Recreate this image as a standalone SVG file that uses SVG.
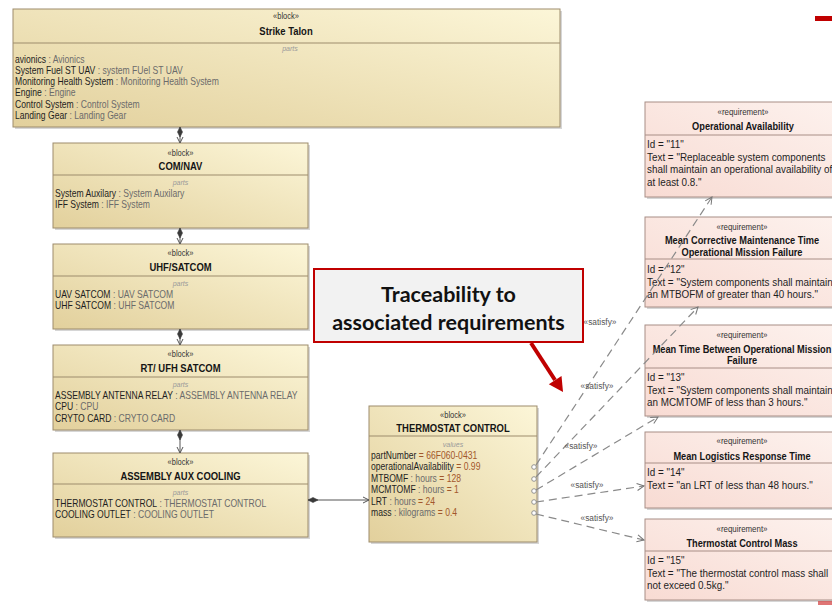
<svg xmlns="http://www.w3.org/2000/svg" width="832" height="605" viewBox="0 0 832 605">
  <defs>
    <linearGradient id="blockFill" x1="0" y1="1" x2="1" y2="0">
      <stop offset="0" stop-color="#e2d09c"/>
      <stop offset="1" stop-color="#fcf6d8"/>
    </linearGradient>
    <linearGradient id="reqFill" x1="0" y1="1" x2="1" y2="0">
      <stop offset="0" stop-color="#f8dbd3"/>
      <stop offset="1" stop-color="#fdf2ee"/>
    </linearGradient>
    <marker id="diamond" markerUnits="userSpaceOnUse" markerWidth="11" markerHeight="7" refX="0" refY="3" orient="auto" overflow="visible">
      <path d="M0,3 L5,0.5 L10,3 L5,5.5 Z" fill="#3a3a3a" stroke="#3a3a3a" stroke-width="0.6"/>
    </marker>
    <marker id="openArrow" markerUnits="userSpaceOnUse" markerWidth="8" markerHeight="8" refX="6" refY="3" orient="auto" overflow="visible">
      <path d="M0,0 L6,3 L0,6" fill="none" stroke="#555" stroke-width="1"/>
    </marker>
    <marker id="satArrow" markerUnits="userSpaceOnUse" markerWidth="9" markerHeight="8" refX="7" refY="3.5" orient="auto" overflow="visible">
      <path d="M0,0 L7,3.5 L0,7" fill="none" stroke="#777" stroke-width="1"/>
    </marker>
  </defs>
  <style>
    text { font-family: "Liberation Sans", Arial, sans-serif; }
    .shadow { fill: #000; opacity: 0.16; }
    .blk { fill: url(#blockFill); stroke: #9d8c6c; stroke-width: 1; }
    .req { fill: url(#reqFill); stroke: #a88e86; stroke-width: 1; }
    .div { stroke: #9d8c6c; stroke-width: 1; }
    .rdiv { stroke: #a88e86; stroke-width: 1; }
    .st { font-size: 8.5px; fill: #333; text-anchor: middle; }
    .ti { font-size: 10.5px; font-weight: bold; fill: #151515; text-anchor: middle; }
    .pt { font-size: 8px; font-style: italic; fill: #9a9a9a; text-anchor: middle; }
    .c { font-size: 10px; fill: #1e1e1e; }
    .g { fill: #6b6b6b; }
    .v { fill: #a2572b; }
    .rst { font-size: 9px; fill: #333; text-anchor: middle; }
    .rti { font-size: 10.5px; font-weight: bold; fill: #151515; text-anchor: middle; }
    .rc { font-size: 11.5px; fill: #1e1e1e; }
    .sat { font-size: 9.5px; fill: #555; text-anchor: middle; }
    .comp { stroke: #555; stroke-width: 1; fill: none; marker-start: url(#diamond); marker-end: url(#openArrow); }
    .satl { stroke: #8a8a8a; stroke-width: 1.2; fill: none; stroke-dasharray: 8 5; marker-end: url(#satArrow); }
    .port { fill: #fff; stroke: #888; stroke-width: 0.9; }
    .call { font-family: Lato, "Open Sans", sans-serif; font-size: 21.5px; font-weight: bold; fill: #111; text-anchor: middle; }
  </style>

  <rect width="832" height="605" fill="#ffffff"/>

  <!-- Blocks -->
  <g id="strike-talon">
    <rect class="shadow" x="15" y="11" width="547" height="118"/>
    <rect class="blk" x="13" y="9" width="547" height="118"/>
    <line class="div" x1="13" y1="43" x2="560" y2="43"/>
    <text class="st" transform="translate(286 19) scale(.88 1)">«block»</text>
    <text class="ti" transform="translate(286 35) scale(.9 1)">Strike Talon</text>
    <text class="pt" transform="translate(290 51) scale(.88 1)">parts</text>
    <text class="c" transform="translate(15 62.5) scale(.86 1)">avionics<tspan class="g"> : Avionics</tspan></text>
    <text class="c" transform="translate(15 73.8) scale(.86 1)">System Fuel ST UAV<tspan class="g"> : system FUel ST UAV</tspan></text>
    <text class="c" transform="translate(15 85.1) scale(.86 1)">Monitoring Health System<tspan class="g"> : Monitoring Health System</tspan></text>
    <text class="c" transform="translate(15 96.4) scale(.86 1)">Engine<tspan class="g"> : Engine</tspan></text>
    <text class="c" transform="translate(15 107.7) scale(.86 1)">Control System<tspan class="g"> : Control System</tspan></text>
    <text class="c" transform="translate(15 119) scale(.86 1)">Landing Gear<tspan class="g"> : Landing Gear</tspan></text>
  </g>

  <g id="com-nav">
    <rect class="shadow" x="55" y="145" width="255" height="85"/>
    <rect class="blk" x="53" y="143" width="255" height="85"/>
    <line class="div" x1="53" y1="175" x2="308" y2="175"/>
    <text class="st" transform="translate(180.5 156) scale(.88 1)">«block»</text>
    <text class="ti" transform="translate(180.5 170) scale(.9 1)">COM/NAV</text>
    <text class="pt" transform="translate(180.5 185) scale(.88 1)">parts</text>
    <text class="c" transform="translate(55 196.5) scale(.86 1)">System Auxilary<tspan class="g"> : System Auxilary</tspan></text>
    <text class="c" transform="translate(55 208) scale(.86 1)">IFF System<tspan class="g"> : IFF System</tspan></text>
  </g>

  <g id="uhf-satcom">
    <rect class="shadow" x="55" y="246" width="255" height="85"/>
    <rect class="blk" x="53" y="244" width="255" height="85"/>
    <line class="div" x1="53" y1="276" x2="308" y2="276"/>
    <text class="st" transform="translate(180.5 256) scale(.88 1)">«block»</text>
    <text class="ti" transform="translate(180.5 271) scale(.9 1)">UHF/SATCOM</text>
    <text class="pt" transform="translate(180.5 286) scale(.88 1)">parts</text>
    <text class="c" transform="translate(55 297.5) scale(.86 1)">UAV SATCOM<tspan class="g"> : UAV SATCOM</tspan></text>
    <text class="c" transform="translate(55 309) scale(.86 1)">UHF SATCOM<tspan class="g"> : UHF SATCOM</tspan></text>
  </g>

  <g id="rt-ufh-satcom">
    <rect class="shadow" x="55" y="347" width="255" height="85"/>
    <rect class="blk" x="53" y="345" width="255" height="85"/>
    <line class="div" x1="53" y1="377" x2="308" y2="377"/>
    <text class="st" transform="translate(180.5 357) scale(.88 1)">«block»</text>
    <text class="ti" transform="translate(180.5 372) scale(.9 1)">RT/ UFH SATCOM</text>
    <text class="pt" transform="translate(180.5 387) scale(.88 1)">parts</text>
    <text class="c" transform="translate(55 398.5) scale(.86 1)">ASSEMBLY ANTENNA RELAY<tspan class="g"> : ASSEMBLY ANTENNA RELAY</tspan></text>
    <text class="c" transform="translate(55 410) scale(.86 1)">CPU<tspan class="g"> : CPU</tspan></text>
    <text class="c" transform="translate(55 421.5) scale(.86 1)">CRYTO CARD<tspan class="g"> : CRYTO CARD</tspan></text>
  </g>

  <g id="assembly-aux-cooling">
    <rect class="shadow" x="55" y="455" width="255" height="84"/>
    <rect class="blk" x="53" y="453" width="255" height="84"/>
    <line class="div" x1="53" y1="484" x2="308" y2="484"/>
    <text class="st" transform="translate(180.5 465) scale(.88 1)">«block»</text>
    <text class="ti" transform="translate(180.5 480) scale(.9 1)">ASSEMBLY AUX COOLING</text>
    <text class="pt" transform="translate(180.5 495) scale(.88 1)">parts</text>
    <text class="c" transform="translate(55 506.5) scale(.86 1)">THERMOSTAT CONTROL<tspan class="g"> : THERMOSTAT CONTROL</tspan></text>
    <text class="c" transform="translate(55 518) scale(.86 1)">COOLING OUTLET<tspan class="g"> : COOLING OUTLET</tspan></text>
  </g>

  <g id="thermostat-control">
    <rect class="shadow" x="371" y="408" width="168" height="136"/>
    <rect class="blk" x="369" y="406" width="168" height="136"/>
    <line class="div" x1="369" y1="436" x2="537" y2="436"/>
    <text class="st" transform="translate(453 418) scale(.88 1)">«block»</text>
    <text class="ti" transform="translate(453 432) scale(.9 1)">THERMOSTAT CONTROL</text>
    <text class="pt" transform="translate(453 447) scale(.88 1)">values</text>
    <text class="c" transform="translate(371 458.5) scale(.86 1)">partNumber<tspan class="v"> = 66F060-0431</tspan></text>
    <text class="c" transform="translate(371 470) scale(.86 1)">operationalAvailability<tspan class="v"> = 0.99</tspan></text>
    <text class="c" transform="translate(371 481.5) scale(.86 1)">MTBOMF<tspan class="g"> : hours</tspan><tspan class="v"> = 128</tspan></text>
    <text class="c" transform="translate(371 493) scale(.86 1)">MCMTOMF<tspan class="g"> : hours</tspan><tspan class="v"> = 1</tspan></text>
    <text class="c" transform="translate(371 504.5) scale(.86 1)">LRT<tspan class="g"> : hours</tspan><tspan class="v"> = 24</tspan></text>
    <text class="c" transform="translate(371 516) scale(.86 1)">mass<tspan class="g"> : kilograms</tspan><tspan class="v"> = 0.4</tspan></text>
    <circle class="port" cx="534" cy="467" r="2.3"/>
    <circle class="port" cx="534" cy="479" r="2.3"/>
    <circle class="port" cx="534" cy="491" r="2.3"/>
    <circle class="port" cx="534" cy="502" r="2.3"/>
    <circle class="port" cx="534" cy="513" r="2.3"/>
  </g>

  <!-- Requirements -->
  <g id="req-11">
    <rect class="shadow" x="647" y="104" width="200" height="95"/>
    <rect class="req" x="645" y="102" width="200" height="95"/>
    <line class="rdiv" x1="645" y1="135" x2="845" y2="135"/>
    <text class="rst" transform="translate(743 115) scale(.88 1)">«requirement»</text>
    <text class="rti" transform="translate(743 129.5) scale(.88 1)">Operational Availability</text>
    <text class="rc" transform="translate(647 148) scale(.86 1)">Id = "11"</text>
    <text class="rc" transform="translate(647 160.5) scale(.86 1)">Text = "Replaceable system components</text>
    <text class="rc" transform="translate(647 173) scale(.86 1)">shall maintain an operational availability of</text>
    <text class="rc" transform="translate(647 185.5) scale(.86 1)">at least 0.8."</text>
  </g>

  <g id="req-12">
    <rect class="shadow" x="647" y="219" width="200" height="90"/>
    <rect class="req" x="645" y="217" width="200" height="90"/>
    <line class="rdiv" x1="645" y1="259" x2="845" y2="259"/>
    <text class="rst" transform="translate(742 230) scale(.88 1)">«requirement»</text>
    <text class="rti" transform="translate(742 244) scale(.88 1)">Mean Corrective Maintenance Time</text>
    <text class="rti" transform="translate(742 256) scale(.88 1)">Operational Mission Failure</text>
    <text class="rc" transform="translate(647 273) scale(.86 1)">Id = "12"</text>
    <text class="rc" transform="translate(647 285.5) scale(.86 1)">Text = "System components shall maintain</text>
    <text class="rc" transform="translate(647 298) scale(.86 1)">an MTBOFM of greater than 40 hours."</text>
  </g>

  <g id="req-13">
    <rect class="shadow" x="647" y="327" width="200" height="91"/>
    <rect class="req" x="645" y="325" width="200" height="91"/>
    <line class="rdiv" x1="645" y1="368" x2="845" y2="368"/>
    <text class="rst" transform="translate(742 338) scale(.88 1)">«requirement»</text>
    <text class="rti" transform="translate(742 352.5) scale(.88 1)">Mean Time Between Operational Mission</text>
    <text class="rti" transform="translate(742 364) scale(.88 1)">Failure</text>
    <text class="rc" transform="translate(647 381) scale(.86 1)">Id = "13"</text>
    <text class="rc" transform="translate(647 393.5) scale(.86 1)">Text = "System components shall maintain</text>
    <text class="rc" transform="translate(647 406) scale(.86 1)">an MCMTOMF of less than 3 hours."</text>
  </g>

  <g id="req-14">
    <rect class="shadow" x="647" y="434" width="200" height="76"/>
    <rect class="req" x="645" y="432" width="200" height="76"/>
    <line class="rdiv" x1="645" y1="463" x2="845" y2="463"/>
    <text class="rst" transform="translate(742 444) scale(.88 1)">«requirement»</text>
    <text class="rti" transform="translate(742 459.5) scale(.88 1)">Mean Logistics Response Time</text>
    <text class="rc" transform="translate(647 476) scale(.86 1)">Id = "14"</text>
    <text class="rc" transform="translate(647 488.5) scale(.86 1)">Text = "an LRT of less than 48 hours."</text>
  </g>

  <g id="req-15">
    <rect class="shadow" x="647" y="521" width="200" height="81"/>
    <rect class="req" x="645" y="519" width="200" height="81"/>
    <line class="rdiv" x1="645" y1="551" x2="845" y2="551"/>
    <text class="rst" transform="translate(742 532) scale(.88 1)">«requirement»</text>
    <text class="rti" transform="translate(742 547) scale(.88 1)">Thermostat Control Mass</text>
    <text class="rc" transform="translate(647 564) scale(.86 1)">Id = "15"</text>
    <text class="rc" transform="translate(647 576.5) scale(.86 1)">Text = "The thermostat control mass shall</text>
    <text class="rc" transform="translate(647 589) scale(.86 1)">not exceed 0.5kg."</text>
  </g>

  <!-- Connectors: part associations and satisfy dependencies -->
  <g id="connectors">
    <path class="comp" d="M180,127 L180,143"/>
    <path class="comp" d="M180,228 L180,244"/>
    <path class="comp" d="M180,329 L180,345"/>
    <path class="comp" d="M180,430 L180,453"/>
    <path class="comp" d="M308,500 L369,500"/>

    <path class="satl" d="M536,465 L712,197"/>
    <path class="satl" d="M536,477 L698,307"/>
    <path class="satl" d="M536,490 L658,417"/>
    <path class="satl" d="M536,502 L644,486"/>
    <path class="satl" d="M536,514 L644,540"/>

    <text class="sat" transform="translate(600 325) scale(.88 1)">«satisfy»</text>
    <text class="sat" transform="translate(597 389) scale(.88 1)">«satisfy»</text>
    <text class="sat" transform="translate(581 449) scale(.88 1)">«satisfy»</text>
    <text class="sat" transform="translate(587 488) scale(.88 1)">«satisfy»</text>
    <text class="sat" transform="translate(597 521) scale(.88 1)">«satisfy»</text>
  </g>

  <!-- Callout -->
  <g id="callout">
    <rect x="314" y="269" width="269" height="73" fill="#f2f2f2" stroke="#c00000" stroke-width="2"/>
    <text class="call" x="448.5" y="302">Traceability to</text>
    <text class="call" x="448.5" y="330">associated requirements</text>
    <line x1="531" y1="343" x2="555" y2="380" stroke="#c00000" stroke-width="4"/>
    <polygon points="563,392 561.5,376 548.8,384.3" fill="#c00000"/>
  </g>

  <!-- Edge marks -->
  <rect x="815" y="16" width="17" height="5" fill="#c00000"/>
  <rect x="818" y="601" width="14" height="4" fill="#d23a3a" opacity="0.7"/>
</svg>
